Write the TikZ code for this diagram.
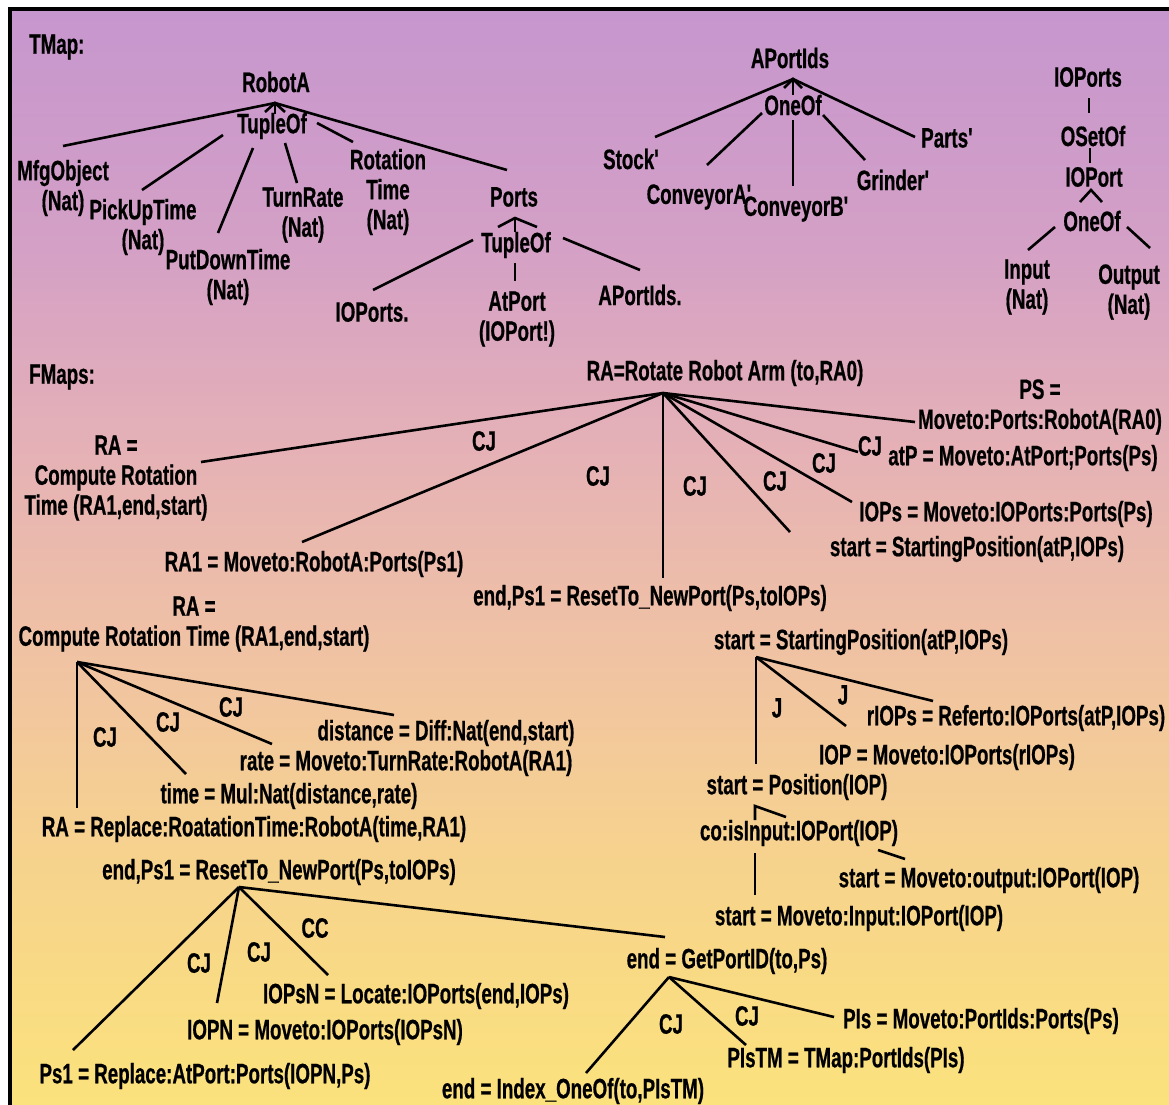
\documentclass[tikz,border=0pt]{standalone}
\usepackage{fontspec}
\setmainfont{Liberation Sans}[FakeStretch=0.67, BoldFeatures={FakeBold=0.6}]
\definecolor{bgT}{RGB}{198,150,206}
\definecolor{bgA}{RGB}{212,160,198}
\definecolor{bgB}{RGB}{229,177,182}
\definecolor{bgC}{RGB}{240,194,164}
\definecolor{bgD}{RGB}{246,210,142}
\definecolor{bgE}{RGB}{251,226,124}
\pgfdeclareverticalshading{paper}{100bp}{color(0bp)=(bgE); color(25bp)=(bgE); color(36.63bp)=(bgD); color(45.79bp)=(bgC); color(54.95bp)=(bgB); color(64.10bp)=(bgA); color(75bp)=(bgT); color(100bp)=(bgT)}
\begin{document}
\begin{tikzpicture}[x=1pt,y=-1pt,
  txt/.style={font=\fontsize{28}{30}\selectfont\bfseries, inner sep=0pt, align=center},
  ln/.style={line width=2.6pt}]
\useasboundingbox (0,0) rectangle (1169,1104);
\clip (0,0) rectangle (1169,1104);
\fill[white] (0,0) rectangle (1169,1104);
\shade[shading=paper] (10,9) rectangle (1169,1104);
\draw[line width=3.5pt] (10,1110) -- (10,9) -- (1175,9);

% ---------------- TMap ----------------
\node[txt,anchor=west] (tmap) at (29,47) {TMap:};
\node[txt] (robotA) at (276,82) {RobotA};
\node[txt] (tup1) at (272,126) {TupleOf};
\node[txt] (mfg) at (63,188) {MfgObject\\(Nat)};
\node[txt] (pick) at (143,227) {PickUpTime\\(Nat)};
\node[txt] (putdown) at (228,277) {PutDownTime\\(Nat)};
\node[txt] (turn) at (303,215) {TurnRate\\(Nat)};
\node[txt] (rot) at (388,192) {Rotation\\Time\\(Nat)};
\node[txt] (ports) at (514,197) {Ports};
\node[txt] (tup2) at (516,245) {TupleOf};
\node[txt] (ioportsA) at (372,312) {IOPorts.};
\node[txt] (atport) at (517,319) {AtPort\\(IOPort!)};
\node[txt] (aportidsA) at (640,295) {APortIds.};
\node[txt] (aportids) at (790,58) {APortIds};
\node[txt] (oneofA) at (793,105) {OneOf};
\node[txt] (stock) at (632,159) {Stock\textquotesingle};
\node[txt] (conva) at (700,197) {ConveyorA\textquotesingle};
\node[txt] (convb) at (797,209) {ConveyorB\textquotesingle};
\node[txt] (grinder) at (894,180) {Grinder\textquotesingle};
\node[txt] (parts) at (948,138) {Parts\textquotesingle};
\node[txt] (ioports) at (1088,77) {IOPorts};
\node[txt] (osetof) at (1093,136) {OSetOf};
\node[txt] (ioport) at (1094,177) {IOPort};
\node[txt] (oneofB) at (1092,221) {OneOf};
\node[txt] (input) at (1027,287) {Input\\(Nat)};
\node[txt] (output) at (1129,292) {Output\\(Nat)};

% RobotA
\coordinate (robotA-x) at ([shift={(-1,21)}]robotA.center);
\draw[ln] (robotA-x) -- ([shift={(0,-42)}]mfg.center);
\draw[ln] (robotA-x) -- ([shift={(-7,-27)}]ports.center);
\draw[ln] ([shift={(-10,9)}]robotA-x) -- (robotA-x) -- ([shift={(10,9)}]robotA-x);
\draw[ln] ([shift={(3,-12)}]tup1.center) -- (robotA-x);
\draw[ln] ([shift={(-49,9)}]tup1.center) -- ([shift={(-1,-37)}]pick.center);
\draw[ln] ([shift={(-19,22)}]tup1.center) -- ([shift={(-10,-44)}]putdown.center);
\draw[ln] ([shift={(13,17)}]tup1.center) -- ([shift={(-6,-32)}]turn.center);
\draw[ln] ([shift={(45,-3)}]tup1.center) -- ([shift={(-35,-50)}]rot.center);

% Ports
\coordinate (ports-x) at ([shift={(1,21)}]ports.center);
\draw[ln] ([shift={(-17,9)}]ports-x) -- (ports-x) -- ([shift={(22,9)}]ports-x);
\draw[ln] ([shift={(-1,-13)}]tup2.center) -- (ports-x);
\draw[ln] ([shift={(-43,-5)}]tup2.center) -- ([shift={(1,-22)}]ioportsA.center);
\draw[ln] ([shift={(-1,18)}]tup2.center) -- ([shift={(-2,-38)}]atport.center);
\draw[ln] ([shift={(47,-7)}]tup2.center) -- ([shift={(0,-25)}]aportidsA.center);

% APortIds
\coordinate (aportids-x) at ([shift={(3,21)}]aportids.center);
\draw[ln] ([shift={(-9,9)}]aportids-x) -- (aportids-x) -- ([shift={(9,9)}]aportids-x);
\draw[ln] ([shift={(0,-10)}]oneofA.center) -- (aportids-x);
\draw[ln] (aportids-x) -- ([shift={(23,-22)}]stock.center);
\draw[ln] (aportids-x) -- ([shift={(-33,-1)}]parts.center);
\draw[ln] ([shift={(-31,8)}]oneofA.center) -- ([shift={(7,-32)}]conva.center);
\draw[ln] ([shift={(0,15)}]oneofA.center) -- ([shift={(-4,-23)}]convb.center);
\draw[ln] ([shift={(30,10)}]oneofA.center) -- ([shift={(-29,-20)}]grinder.center);

% IOPorts
\draw[ln] ([shift={(1,21)}]ioports.center) -- ([shift={(-4,-23)}]osetof.center);
\draw[ln] ([shift={(-3,12)}]osetof.center) -- ([shift={(-4,-14)}]ioport.center);
\coordinate (ioport-x) at ([shift={(-3,13)}]ioport.center);
\draw[ln] ([shift={(-11,12)}]ioport-x) -- (ioport-x) -- ([shift={(11,12)}]ioport-x);
\draw[ln] ([shift={(-37,6)}]oneofB.center) -- ([shift={(1,-37)}]input.center);
\draw[ln] ([shift={(35,6)}]oneofB.center) -- ([shift={(21,-44)}]output.center);

% ---------------- FMaps ----------------
\node[txt,anchor=west] (fmaps) at (29,377) {FMaps:};
\node[txt] (rra) at (725,373) {RA=Rotate Robot Arm (to,RA0)};
\node[txt] (crtA) at (116,478) {RA =\\Compute Rotation\\Time (RA1,end,start)};
\node[txt] (raone) at (314,564) {RA1 = Moveto:RobotA:Ports(Ps1)};
\node[txt] (resetA) at (650,598) {end,Ps1 = ResetTo\_NewPort(Ps,toIOPs)};
\node[txt] (spA) at (977,549) {start = StartingPosition(atP,IOPs)};
\node[txt] (iops) at (1006,514) {IOPs = Moveto:IOPorts:Ports(Ps)};
\node[txt] (atp) at (1023,458) {atP = Moveto:AtPort;Ports(Ps)};
\node[txt] (ps) at (1040,407) {PS =\\Moveto:Ports:RobotA(RA0)};
\node[txt] (cjA1) at (484,441) {CJ};
\node[txt] (cjA2) at (598,476) {CJ};
\node[txt] (cjA3) at (695,486) {CJ};
\node[txt] (cjA4) at (775,481) {CJ};
\node[txt] (cjA5) at (824,463) {CJ};
\node[txt] (cjA6) at (870,446) {CJ};

\coordinate (rra-x) at ([shift={(-62,20)}]rra.center);
\draw[ln] (rra-x) -- ([shift={(85,-16)}]crtA.center);
\draw[ln] (rra-x) -- ([shift={(-12,-22)}]raone.center);
\draw[ln] (rra-x) -- ([shift={(13,-20)}]resetA.center);
\draw[ln] (rra-x) -- ([shift={(-187,-17)}]spA.center);
\draw[ln] (rra-x) -- ([shift={(-154,-12)}]iops.center);
\draw[ln] (rra-x) -- ([shift={(-165,-6)}]atp.center);
\draw[ln] (rra-x) -- ([shift={(-125,15)}]ps.center);

% Compute Rotation Time
\node[txt] (crtB) at (194,624) {RA =\\Compute Rotation Time (RA1,end,start)};
\node[txt] (dist) at (446,733) {distance = Diff:Nat(end,start)};
\node[txt] (rate) at (406,763) {rate = Moveto:TurnRate:RobotA(RA1)};
\node[txt] (time) at (289,796) {time = Mul:Nat(distance,rate)};
\node[txt] (rarep) at (254,829) {RA = Replace:RoatationTime:RobotA(time,RA1)};
\node[txt] (cjB1) at (105,737) {CJ};
\node[txt] (cjB2) at (168,722) {CJ};
\node[txt] (cjB3) at (231,707) {CJ};

\coordinate (crtB-x) at ([shift={(-117,38)}]crtB.center);
\draw[ln] (crtB-x) -- ([shift={(-177,-21)}]rarep.center);
\draw[ln] (crtB-x) -- ([shift={(-103,-22)}]time.center);
\draw[ln] (crtB-x) -- ([shift={(-134,-19)}]rate.center);
\draw[ln] (crtB-x) -- ([shift={(-52,-18)}]dist.center);

% ResetTo_NewPort
\node[txt] (resetB) at (279,872) {end,Ps1 = ResetTo\_NewPort(Ps,toIOPs)};
\node[txt] (psone) at (205,1076) {Ps1 = Replace:AtPort:Ports(IOPN,Ps)};
\node[txt] (iopn) at (325,1032) {IOPN = Moveto:IOPorts(IOPsN)};
\node[txt] (iopsn) at (416,996) {IOPsN = Locate:IOPorts(end,IOPs)};
\node[txt] (getport) at (727,961) {end = GetPortID(to,Ps)};
\node[txt] (cjC1) at (199,963) {CJ};
\node[txt] (cjC2) at (259,952) {CJ};
\node[txt] (ccC3) at (315,928) {CC};

\coordinate (resetB-x) at ([shift={(-40,15)}]resetB.center);
\draw[ln] (resetB-x) -- ([shift={(-132,-26)}]psone.center);
\draw[ln] (resetB-x) -- ([shift={(-108,-29)}]iopn.center);
\draw[ln] (resetB-x) -- ([shift={(-88,-21)}]iopsn.center);
\draw[ln] (resetB-x) -- ([shift={(-62,-24)}]getport.center);

% GetPortID
\node[txt] (pis) at (981,1021) {PIs = Moveto:PortIds:Ports(Ps)};
\node[txt] (pistm) at (846,1060) {PIsTM = TMap:PortIds(PIs)};
\node[txt] (endidx) at (573,1091) {end = Index\_OneOf(to,PIsTM)};
\node[txt] (cjD1) at (671,1024) {CJ};
\node[txt] (cjD2) at (747,1016) {CJ};

\coordinate (getport-x) at ([shift={(-58,16)}]getport.center);
\draw[ln] (getport-x) -- ([shift={(13,-18)}]endidx.center);
\draw[ln] (getport-x) -- ([shift={(-100,-15)}]pistm.center);
\draw[ln] (getport-x) -- ([shift={(-147,-4)}]pis.center);

% StartingPosition
\node[txt] (spB) at (861,642) {start = StartingPosition(atP,IOPs)};
\node[txt] (rops) at (1016,718) {rIOPs = Referto:IOPorts(atP,IOPs)};
\node[txt] (iop) at (947,757) {IOP = Moveto:IOPorts(rIOPs)};
\node[txt] (spos) at (797,787) {start = Position(IOP)};
\node[txt] (cois) at (799,833) {co:isInput:IOPort(IOP)};
\node[txt] (smo) at (989,880) {start = Moveto:output:IOPort(IOP)};
\node[txt] (smi) at (859,918) {start = Moveto:Input:IOPort(IOP)};
\node[txt] (jE1) at (777,708) {J};
\node[txt] (jE2) at (843,695) {J};

\coordinate (spB-x) at ([shift={(-105,15)}]spB.center);
\draw[ln] (spB-x) -- ([shift={(-41,-23)}]spos.center);
\draw[ln] (spB-x) -- ([shift={(-101,-31)}]iop.center);
\draw[ln] (spB-x) -- ([shift={(-83,-17)}]rops.center);
\coordinate (spos-x) at ([shift={(-42,19)}]spos.center);
\draw[ln] ([shift={(-44,-13)}]cois.center) -- (spos-x) -- ([shift={(31,11)}]spos-x);
\draw[ln] ([shift={(79,17)}]cois.center) -- ([shift={(-84,-21)}]smo.center);
\draw[ln] ([shift={(-44,20)}]cois.center) -- ([shift={(-104,-23)}]smi.center);
\end{tikzpicture}
\end{document}
